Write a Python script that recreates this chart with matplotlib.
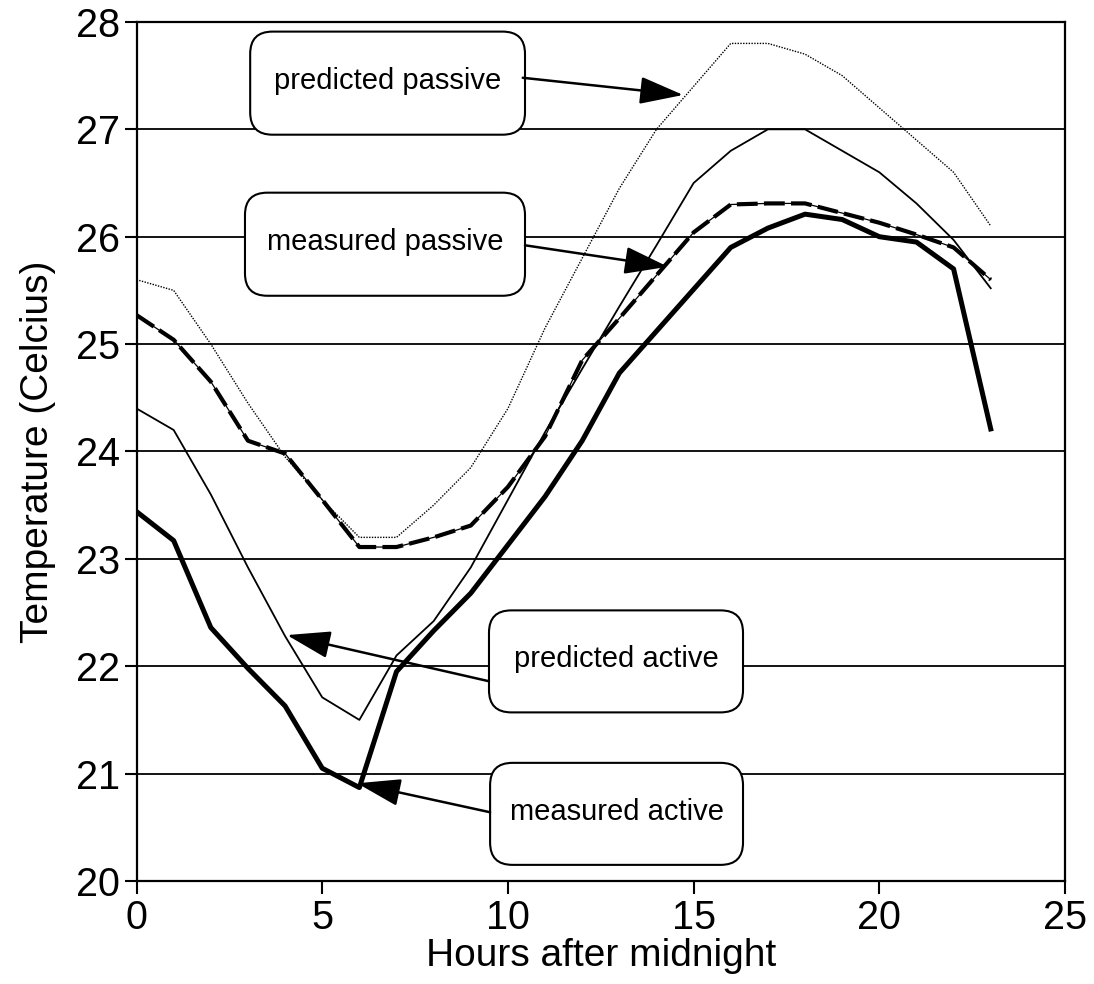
import matplotlib
matplotlib.use("Agg")
import matplotlib.pyplot as plt
from matplotlib.patches import FancyBboxPatch

plt.rcParams["font.family"] = ["Liberation Sans", "DejaVu Sans"]

# hourly readings, 0..23 h after midnight
hours = list(range(24))
pred_passive = [25.6, 25.5, 25.0, 24.45, 23.95, 23.55, 23.2, 23.2, 23.5, 23.85,
                24.4, 25.15, 25.8, 26.45, 27.0, 27.4, 27.8, 27.8, 27.7, 27.5,
                27.2, 26.9, 26.6, 26.1]
pred_active = [24.4, 24.2, 23.6, 22.92, 22.28, 21.71, 21.5, 22.1, 22.42, 22.92,
               23.55, 24.18, 24.77, 25.35, 25.92, 26.5, 26.8, 27.0, 27.0, 26.8,
               26.6, 26.31, 25.97, 25.52]
meas_passive = [25.27, 25.04, 24.65, 24.1, 23.98, 23.55, 23.11, 23.11, 23.2, 23.31,
                23.67, 24.14, 24.85, 25.24, 25.64, 26.04, 26.3, 26.31, 26.31, 26.22,
                26.13, 26.02, 25.9, 25.6]
meas_active = [23.44, 23.17, 22.36, 21.98, 21.63, 21.05, 20.87, 21.95, 22.33, 22.68,
               23.13, 23.58, 24.1, 24.73, 25.12, 25.51, 25.9, 26.08, 26.21, 26.16,
               26.0, 25.95, 25.7, 24.21]

x_ticks = [0, 5, 10, 15, 20, 25]
y_ticks = [20, 21, 22, 23, 24, 25, 26, 27, 28]

# callouts: text, box (x0, y0, x1, y1), arrow start, arrow tip
callouts = [
    ("predicted passive", (3.06, 26.95, 10.46, 27.91), (10.40, 27.48), (14.72, 27.32)),
    ("measured passive", (2.92, 25.45, 10.46, 26.41), (10.46, 25.92), (14.31, 25.72)),
    ("predicted active", (9.49, 21.57, 16.33, 22.52), (9.49, 21.86), (4.05, 22.29)),
    ("measured active", (9.52, 20.15, 16.33, 21.10), (9.52, 20.64), (5.94, 20.91)),
]

fig = plt.figure(figsize=(10.94, 9.84), dpi=100)
ax = fig.add_axes([0.1248, 0.1047, 0.8487, 0.873])

for y in y_ticks[1:-1]:
    ax.axhline(y, color="black", lw=1.3, zorder=1)

ax.plot(hours, pred_passive, color="black", lw=1.0, ls=(0, (1, 1)), zorder=3)
ax.plot(hours, pred_active, color="black", lw=1.3, zorder=3)
ax.plot(hours, meas_passive, color="black", lw=0.9, zorder=3)
ax.plot(hours, meas_passive, color="black", lw=3.0, ls=(0, (5, 1.5)), zorder=3)
ax.plot(hours, meas_active, color="black", lw=3.6, solid_joinstyle="round", zorder=3)

# x px per unit / y px per unit, so the round corners look round
aspect = 37.14 / 107.4
for text, (x0, y0, x1, y1), start, tip in callouts:
    box = FancyBboxPatch((x0, y0), x1 - x0, y1 - y0,
                         boxstyle="round,pad=0,rounding_size=0.6",
                         mutation_aspect=aspect,
                         facecolor="white", edgecolor="black", lw=1.5, zorder=5)
    ax.add_patch(box)
    ax.text((x0 + x1) / 2, (y0 + y1) / 2 + 0.02, text, ha="center", va="center",
            fontsize=21, zorder=6)
    ax.annotate("", xy=tip, xytext=start,
                arrowprops=dict(arrowstyle="-|>,head_length=2.7,head_width=0.85",
                                mutation_scale=10, lw=1.8, color="black",
                                shrinkA=0, shrinkB=0),
                zorder=6)

ax.set_xlim(0, 25)
ax.set_ylim(20, 28)
ax.set_xticks(x_ticks)
ax.set_yticks(y_ticks)
ax.tick_params(direction="out", length=9, width=1.5, labelsize=28.5, pad=3)
ax.tick_params(axis="x", pad=4)
for s in ax.spines.values():
    s.set_linewidth(1.6)

ax.set_xlabel("Hours after midnight", fontsize=28, labelpad=1)
ax.set_ylabel("Temperature (Celcius)", fontsize=28, labelpad=14)

fig.savefig("out.png", dpi=100, facecolor="white")
